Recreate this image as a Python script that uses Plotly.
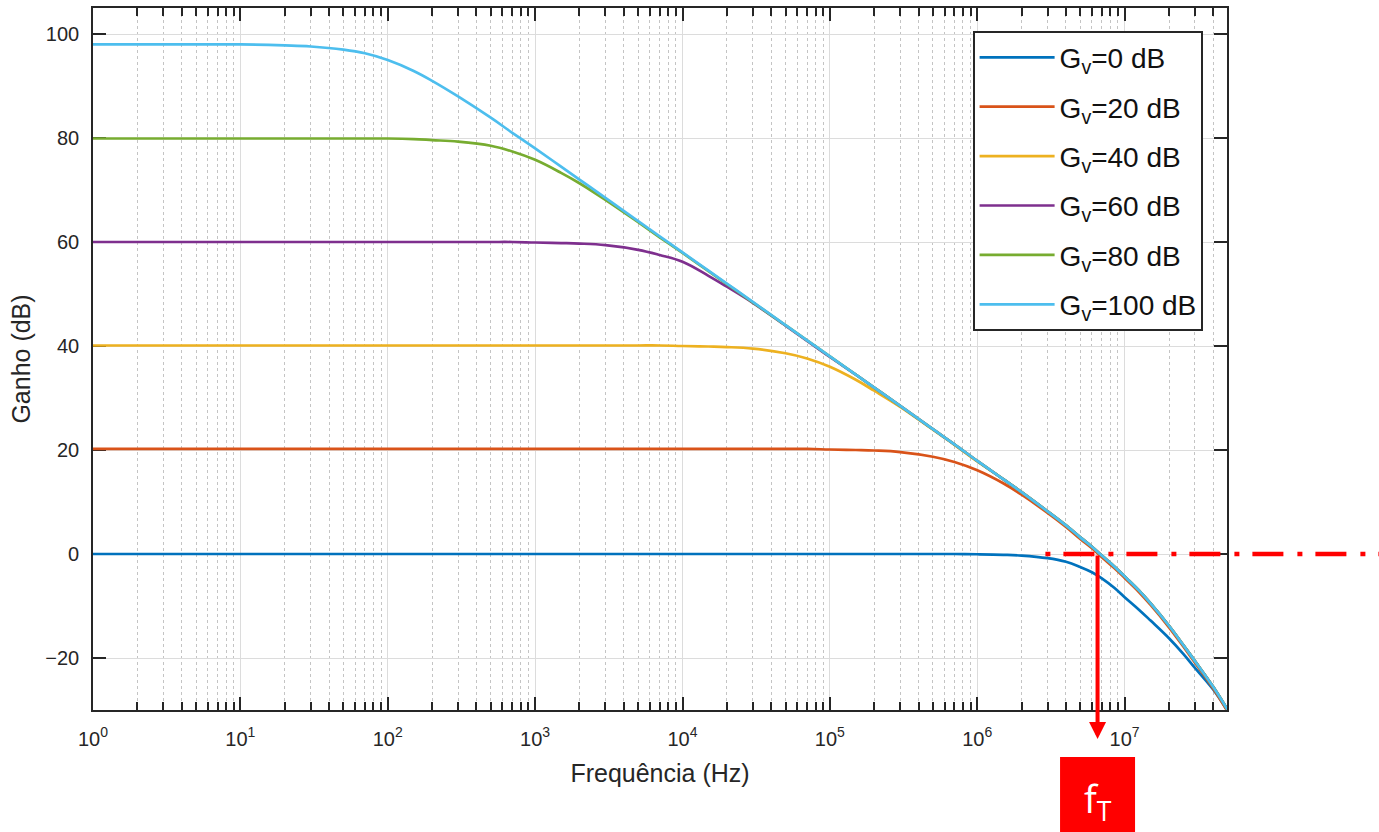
import math
import plotly.graph_objects as go

# ---------------- data ----------------
FREQ = [1, 2, 5, 10, 20, 30, 50, 70, 100, 150, 200, 300, 500, 700,
        1e3, 1.5e3, 2e3, 3e3, 5e3, 7e3, 1e4, 1.5e4, 2e4, 3e4, 5e4, 7e4,
        1e5, 1.5e5, 2e5, 3e5, 5e5, 7e5, 1e6, 1.5e6, 2e6, 3e6, 4e6, 5e6,
        6e6, 7e6, 8.5e6, 1e7, 1.25e7, 1.5e7, 2e7, 2.5e7, 3e7, 4e7, 5e7]

G0 = [0.0, 0.0, 0.0, 0.0, 0.0, 0.0, 0.0, 0.0, 0.0, 0.0, 0.0, 0.0, 0.0, 0.0,
      0.0, 0.0, 0.0, 0.0, 0.0, 0.0, 0.0, 0.0, 0.0, 0.0, 0.0, 0.0,
      0.0, 0.0, 0.0, 0.0, 0.0, 0.0, -0.05, -0.15, -0.3, -0.8, -1.5, -2.5,
      -3.5, -4.7, -6.5, -8.3, -10.7, -12.8, -16.2, -19.2, -21.9, -26.1, -30.2]
G20 = [20.2, 20.2, 20.2, 20.2, 20.2, 20.2, 20.2, 20.2, 20.2, 20.2, 20.2, 20.2, 20.2, 20.2,
       20.2, 20.2, 20.2, 20.2, 20.2, 20.2, 20.2, 20.2, 20.2, 20.2, 20.2, 20.2,
       20.1, 20.0, 19.9, 19.6, 18.7, 17.7, 16.1, 13.6, 11.4, 7.9, 5.2, 2.9,
       1.1, -0.6, -2.7, -4.6, -7.3, -9.8, -14.1, -17.8, -20.9, -25.9, -30.3]
G40 = [40.1, 40.1, 40.1, 40.1, 40.1, 40.1, 40.1, 40.1, 40.1, 40.1, 40.1, 40.1, 40.1, 40.1,
       40.1, 40.1, 40.1, 40.1, 40.1, 40.1, 40.0, 39.9, 39.8, 39.5, 38.6, 37.6,
       36.0, 33.5, 31.4, 28.3, 23.9, 21.0, 17.8, 14.4, 11.9, 8.2, 5.5, 3.2,
       1.4, -0.3, -2.4, -4.3, -7.0, -9.5, -13.8, -17.5, -20.6, -25.6, -30.0]
G60 = [60.0, 60.0, 60.0, 60.0, 60.0, 60.0, 60.0, 60.0, 60.0, 60.0, 60.0, 60.0, 60.0, 60.0,
       59.9, 59.8, 59.7, 59.4, 58.5, 57.5, 56.2, 53.5, 51.4, 48.3, 43.9, 41.0,
       37.9, 34.5, 32.0, 28.5, 24.0, 21.1, 17.9, 14.4, 11.9, 8.2, 5.5, 3.2,
       1.4, -0.3, -2.4, -4.3, -7.0, -9.5, -13.8, -17.5, -20.6, -25.6, -30.0]
G80 = [79.9, 79.9, 79.9, 79.9, 79.9, 79.9, 79.9, 79.9, 79.9, 79.8, 79.6, 79.3, 78.5, 77.4,
       75.8, 73.3, 71.3, 68.1, 63.8, 60.9, 57.9, 54.4, 51.9, 48.4, 44.0, 41.1,
       38.0, 34.5, 32.0, 28.5, 24.0, 21.1, 17.9, 14.4, 11.9, 8.2, 5.5, 3.2,
       1.4, -0.3, -2.4, -4.3, -7.0, -9.5, -13.8, -17.5, -20.6, -25.6, -30.0]
G100 = [98.0, 98.0, 98.0, 98.0, 97.8, 97.6, 97.0, 96.3, 95.0, 92.9, 91.0, 88.0, 83.9, 81.0,
        78.0, 74.5, 72.0, 68.5, 64.0, 61.1, 58.0, 54.5, 52.0, 48.5, 44.0, 41.1,
        38.0, 34.5, 32.0, 28.5, 24.0, 21.1, 17.9, 14.4, 11.9, 8.2, 5.5, 3.2,
        1.4, -0.3, -2.4, -4.3, -7.0, -9.5, -13.8, -17.5, -20.6, -25.6, -30.0]

SERIES_NAMES = ["G<sub>v</sub>=0 dB", "G<sub>v</sub>=20 dB", "G<sub>v</sub>=40 dB",
                "G<sub>v</sub>=60 dB", "G<sub>v</sub>=80 dB", "G<sub>v</sub>=100 dB"]
SERIES_VALUES = [G0, G20, G40, G60, G80, G100]
COLORS = ["#0072BD", "#D95319", "#EDB120", "#7E2F8E", "#77AC30", "#4DBEEE"]

DECADES = [1, 10, 100, 1e3, 1e4, 1e5, 1e6, 1e7]
DECADE_LABELS = ["10<sup>0</sup>", "10<sup>1</sup>", "10<sup>2</sup>", "10<sup>3</sup>",
                 "10<sup>4</sup>", "10<sup>5</sup>", "10<sup>6</sup>", "10<sup>7</sup>"]
MINOR_TICKS = [k * 10 ** d for d in range(0, 8) for k in range(2, 10)]
Y_TICKS = [-20, 0, 20, 40, 60, 80, 100]

F_T = 6.55e6           # transition frequency marked by the arrow
F_DASH_START = 2.9e6   # where the red dash-dot 0 dB line starts

# ---------------- layout constants ----------------
W, H = 1379, 832
ML, MR, MT, MB = 93, 152, 8, 122
XMAX = 4.95e7
YMIN, YMAX = -30, 105
PLOT_W = W - ML - MR
PLOT_H = H - MT - MB
INK = "#262626"
FONT = "Liberation Sans, Arial, sans-serif"


def xpaper(f):
    return math.log10(f) / math.log10(XMAX)


def ypaper(v):
    return (v - YMIN) / (YMAX - YMIN)


def ypix2paper(py):
    return (MT + PLOT_H - py) / PLOT_H


fig = go.Figure()
for name, vals, col in zip(SERIES_NAMES, SERIES_VALUES, COLORS):
    fig.add_trace(go.Scatter(
        x=FREQ, y=vals, mode="lines", name=name, legendgroup=name,
        line=dict(color=col, width=2.7, shape="spline", smoothing=1.1),
    ))

axis_common = dict(
    showline=True, linecolor=INK, linewidth=1.6, mirror="ticks",
    ticks="inside", ticklen=13, tickwidth=1.6, tickcolor=INK,
    showgrid=True, gridcolor="#dcdcdc", gridwidth=1, zeroline=False,
    tickfont=dict(family=FONT, size=20, color=INK),
    automargin=False, layer="below traces",
)

fig.update_xaxes(
    type="log", range=[0, math.log10(XMAX)],
    tickmode="array", tickvals=DECADES, ticktext=DECADE_LABELS,
    ticklabelstandoff=10,
    minor=dict(tickmode="array", tickvals=MINOR_TICKS, ticks="inside", ticklen=8,
               tickwidth=1.6, tickcolor=INK, showgrid=True, gridcolor="#c4c4c4",
               griddash="dot", gridwidth=1),
    title=dict(text="Frequência (Hz)", font=dict(family=FONT, size=25, color=INK), standoff=16),
    **axis_common,
)
fig.update_yaxes(
    range=[YMIN, YMAX], tickmode="array", tickvals=Y_TICKS,
    ticklabelstandoff=8,
    title=dict(text="Ganho (dB)", font=dict(family=FONT, size=25, color=INK), standoff=8),
    **axis_common,
)

# red dash-dot 0 dB line (extends past the axes)
fig.add_shape(type="line", xref="paper", yref="paper",
              x0=xpaper(F_DASH_START), x1=1.25, y0=ypaper(0), y1=ypaper(0),
              line=dict(color="#ff0000", width=4.5, dash="5px,13px,31px,14px"),
              layer="above")

# vertical arrow at f_T
tip_y = ypix2paper(739)
fig.add_annotation(x=math.log10(F_T), xref="x", y=tip_y, yref="paper",
                   ax=0, ay=-(ypaper(0) - tip_y) * PLOT_H, axref="pixel", ayref="pixel",
                   showarrow=True, arrowhead=2, arrowsize=0.85, arrowwidth=4,
                   arrowcolor="#ff0000", text="")

# red f_T box
half_w = 37.5 / PLOT_W
fig.add_shape(type="rect", xref="paper", yref="paper",
              x0=xpaper(F_T) - half_w, x1=xpaper(F_T) + half_w,
              y0=ypix2paper(H + 5), y1=ypix2paper(757),
              fillcolor="#ff0000", line=dict(width=0), layer="above")
fig.add_annotation(x=math.log10(F_T), xref="x", y=ypix2paper(800), yref="paper",
                   text="f<sub>T</sub>", showarrow=False, yanchor="middle",
                   font=dict(family="Open Sans, sans-serif", size=38, color="white"))

fig.update_layout(
    width=W, height=H,
    margin=dict(l=ML, r=MR, t=MT, b=MB, autoexpand=False),
    paper_bgcolor="white", plot_bgcolor="white",
    font=dict(family=FONT, color=INK),
    legend=dict(x=(973 - ML) / PLOT_W, y=ypix2paper(31), xanchor="left", yanchor="top",
                bgcolor="white", bordercolor=INK, borderwidth=1.6,
                font=dict(family=FONT, size=28, color="#111111"),
                itemwidth=75, tracegroupgap=10),
    showlegend=True,
)

fig.write_html("out.html", post_script="document.body.style.margin='0px';",
               config={"displayModeBar": False})
